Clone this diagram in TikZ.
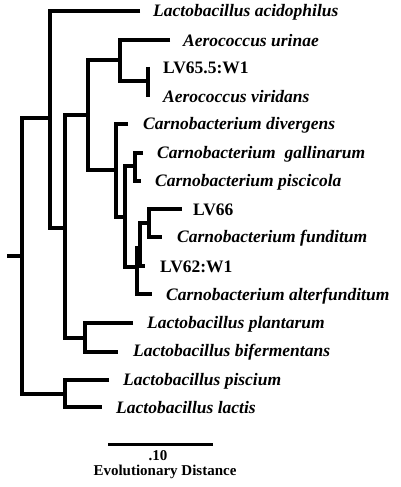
\documentclass[tikz,border=0pt]{standalone}
\usepackage{fontspec}
\setmainfont{Liberation Serif}
\begin{document}
\begin{tikzpicture}[x=1pt,y=-1pt,
  br/.style={line width=3.3pt, line join=miter, line cap=butt},
  sp/.style={font=\fontsize{17.5}{18}\selectfont\bfseries\itshape, anchor=west, inner sep=0pt},
  lv/.style={font=\fontsize{17.5}{18}\selectfont\bfseries, anchor=west, inner sep=0pt},
  sc/.style={font=\fontsize{15}{16}\selectfont\bfseries, inner sep=0pt}]
\useasboundingbox (0,0) rectangle (400,487);
% internal nodes
\coordinate (R) at (22,256);
\coordinate (R0) at (7,256);
\coordinate (A) at (50,118);
\coordinate (B) at (65,228);
\coordinate (C) at (88,115);
\coordinate (D) at (120,60);
\coordinate (E) at (148,81);
\coordinate (F) at (116,170);
\coordinate (G) at (125,217);
\coordinate (H) at (135,166);
\coordinate (I) at (137,267);
\coordinate (J) at (140,248);
\coordinate (K) at (149,223);
\coordinate (L) at (85,338);
\coordinate (M) at (65,394);
% tips
\coordinate (t1) at (140,11);
\coordinate (t2) at (170,40);
\coordinate (t3) at (148,67);
\coordinate (t4) at (148,97);
\coordinate (t5) at (128,124);
\coordinate (t6) at (143,153);
\coordinate (t7) at (141,181);
\coordinate (t8) at (182,209);
\coordinate (t9) at (162,237);
\coordinate (t10) at (145,266);
\coordinate (t11) at (152,294);
\coordinate (t12) at (133,323);
\coordinate (t13) at (118,352);
\coordinate (t14) at (109,380);
\coordinate (t15) at (102,407);
% branches
\draw[br] (R0) -- (R);
\draw[br] (A) -| (R) |- (M);
\draw[br] (t1) -| (A) |- (B);
\draw[br] (C) -| (B) |- (L);
\draw[br] (D) -| (C) |- (F);
\draw[br] (t2) -| (D) |- (E);
\draw[br] (t3) -- (t4);
\draw[br] (t5) -| (F) |- (G);
\draw[br] (H) -| (G) |- (I);
\draw[br] (t6) -| (H) |- (t7);
\draw[br] (J) -| (I) |- (t11);
\draw[br] (K) -| (J) |- (t10);
\draw[br] (t8) -| (K) |- (t9);
\draw[br] (t12) -| (L) |- (t13);
\draw[br] (t14) -| (M) |- (t15);
% labels
\node[sp] (n1) at (153,12) {Lactobacillus acidophilus};
\node[sp] (n2) at (183,41) {Aerococcus urinae};
\node[lv] (n3) at (163,68) {LV65.5:W1};
\node[sp] (n4) at (163,97) {Aerococcus viridans};
\node[sp] (n5) at (143,125) {Carnobacterium divergens};
\node[sp] (n6) at (157,154) {Carnobacterium\ \ gallinarum};
\node[sp] (n7) at (155,182) {Carnobacterium piscicola};
\node[lv] (n8) at (193,210) {LV66};
\node[sp] (n9) at (177,238) {Carnobacterium funditum};
\node[lv] (n10) at (160,267) {LV62:W1};
\node[sp] (n11) at (166,296) {Carnobacterium alterfunditum};
\node[sp] (n12) at (147,324) {Lactobacillus plantarum};
\node[sp] (n13) at (133,352) {Lactobacillus bifermentans};
\node[sp] (n14) at (123,381) {Lactobacillus piscium};
\node[sp] (n15) at (116,408) {Lactobacillus lactis};
% scale
\coordinate (s1) at (108,444);
\coordinate (s2) at (213,444);
\draw[line width=3pt] (s1) -- (s2);
\node[sc] (st) at (158,456) {.10};
\node[sc] (sl) at (165,472) {Evolutionary Distance};
\end{tikzpicture}
\end{document}
